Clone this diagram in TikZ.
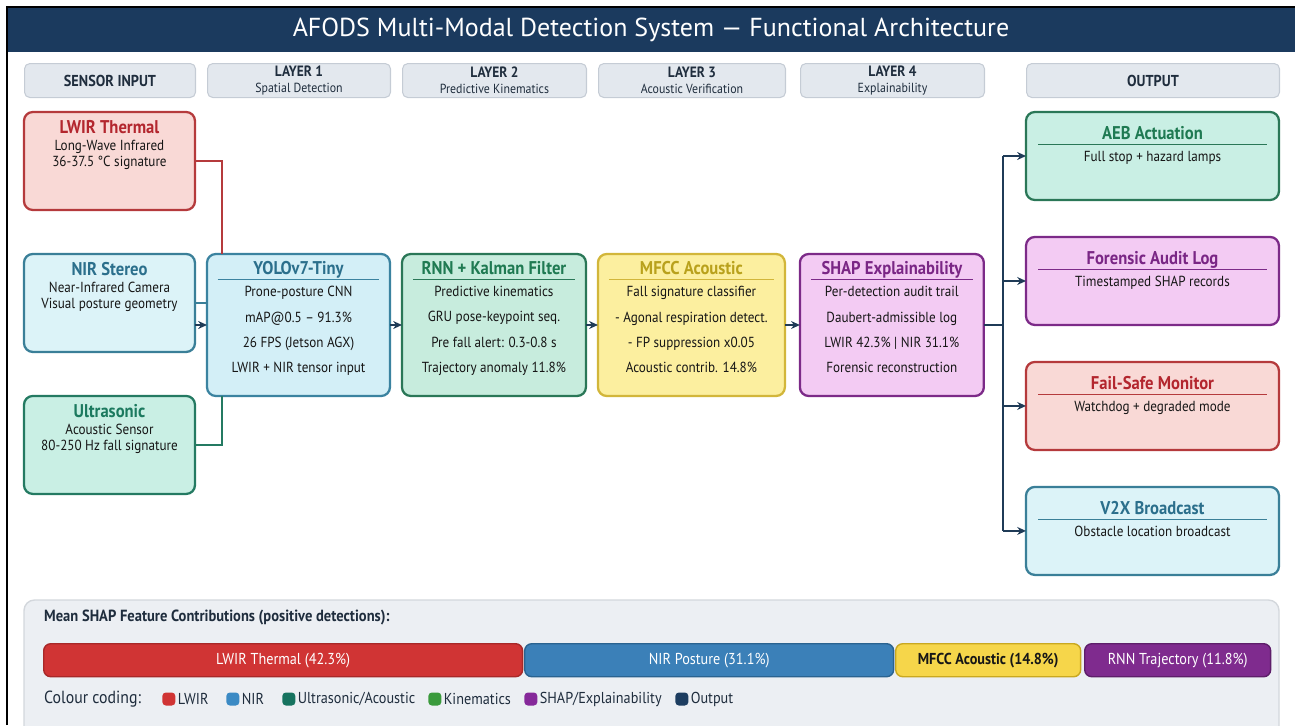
\documentclass[tikz,border=0pt]{standalone}
\usepackage{fontspec}
\setmainfont{PT Sans}[FakeStretch=0.9]
\newfontfamily\headfont{PT Sans}
\usetikzlibrary{arrows.meta, positioning, calc}

% colours
\definecolor{titlebar}{HTML}{1B3A5E}
\definecolor{hdrfill}{HTML}{E3E8EE}
\definecolor{hdrline}{HTML}{C5CCD5}
\definecolor{hdrtext}{HTML}{1F2D3D}
\definecolor{bodytext}{HTML}{161616}
\definecolor{navy}{HTML}{1F3B57}
\definecolor{lwirfill}{HTML}{F9D9D6}\definecolor{lwirline}{HTML}{B53A3C}\definecolor{lwirtxt}{HTML}{B3262E}
\definecolor{nirfill}{HTML}{DCF3F8}\definecolor{nirline}{HTML}{3A7F98}\definecolor{nirtxt}{HTML}{2B6F8C}
\definecolor{ultrafill}{HTML}{C9EFE4}\definecolor{ultraline}{HTML}{247A62}\definecolor{ultratxt}{HTML}{1C7A5F}
\definecolor{yolofill}{HTML}{D3EFF7}\definecolor{yololine}{HTML}{3B83A0}
\definecolor{rnnfill}{HTML}{C7ECDD}\definecolor{rnnline}{HTML}{2A7757}\definecolor{rnntxt}{HTML}{1F7A52}
\definecolor{mfccfill}{HTML}{FCEF9F}\definecolor{mfccline}{HTML}{D2B63A}\definecolor{mfcctxt}{HTML}{B9A11C}
\definecolor{shapfill}{HTML}{F3CBF3}\definecolor{shapline}{HTML}{7C2A88}\definecolor{shaptxt}{HTML}{7A2685}
\definecolor{panelfill}{HTML}{ECEFF3}\definecolor{panelline}{HTML}{D3D7DC}
\definecolor{barred}{HTML}{D03434}\definecolor{barredline}{HTML}{A82828}
\definecolor{barblue}{HTML}{3B80B8}\definecolor{barblueline}{HTML}{2A6390}
\definecolor{baryellow}{HTML}{F6D64A}\definecolor{baryellowline}{HTML}{C9A820}
\definecolor{barpurple}{HTML}{7F2B8E}\definecolor{barpurpleline}{HTML}{5E1E6A}
\definecolor{legteal}{HTML}{16735F}\definecolor{leggreen}{HTML}{3A9A3C}
\definecolor{legpurple}{HTML}{86299A}\definecolor{legnavy}{HTML}{1D3D60}
\definecolor{legblue}{HTML}{3B8AC4}

\newcommand{\cardbox}[3]{\parbox[c][#2][t]{#1}{\centering\fontsize{8.3}{9.4}\selectfont\color{bodytext}#3}}
\newcommand{\cardtitle}[2]{{\fontsize{10.5}{12}\selectfont\bfseries\color{#1}#2}}
\newcommand{\cardrule}[2]{{\color{#1}\rule[3pt]{#2}{0.6pt}}}

\tikzset{
  card/.style={
    rectangle, rounded corners=5pt,
    line width=1.3pt, outer sep=0pt,
    inner sep=0pt, anchor=north west
  },
  hdr/.style={
    rectangle, rounded corners=3pt,
    draw=hdrline, fill=hdrfill, line width=0.6pt,
    minimum width=#1, minimum height=0.68cm,
    anchor=north west, align=center,
    inner sep=0pt, text=hdrtext
  },
  hdr/.default=3.66cm,
  link/.style={line width=1.1pt},
  arrow/.style={
    -{Stealth[length=5pt, width=4.5pt]},
    line width=1.1pt, draw=navy
  },
  bar/.style={
    rectangle, rounded corners=4pt,
    line width=0.8pt, minimum height=0.66cm,
    anchor=north west, inner sep=0pt,
    font=\fontsize{9}{10}\selectfont, text=white
  },
  legsq/.style={
    rectangle, rounded corners=2pt,
    minimum size=0.26cm, inner sep=0pt
  }
}

\begin{document}
\begin{tikzpicture}[x=0.02cm, y=-0.02cm]

\useasboundingbox (0,0) rectangle (1295,725);

%------------------------------------------------------
% TITLE BAR
%------------------------------------------------------
\fill[titlebar] (7,7) rectangle (1295,52);
\draw[black, line width=1.2pt] (7,725) -- (7,7) -- (1295,7);
\node[text=white, font=\headfont\fontsize{14.8}{16}\selectfont] (title) at (651,30)
  {AFODS Multi-Modal Detection System — Functional Architecture};

%------------------------------------------------------
% COLUMN HEADERS
%------------------------------------------------------
\node[hdr=3.42cm] (hsensor) at (24,63) {\fontsize{9}{10}\selectfont\bfseries SENSOR INPUT};
\node[hdr=3.66cm] (hlayer1) at (207,63) {\fontsize{8.5}{8}\selectfont\bfseries LAYER 1\\[-3pt]\fontsize{7.5}{8}\selectfont Spatial Detection};
\node[hdr=3.68cm] (hlayer2) at (402,63) {\fontsize{8.5}{8}\selectfont\bfseries LAYER 2\\[-3pt]\fontsize{7.5}{8}\selectfont Predictive Kinematics};
\node[hdr=3.74cm] (hlayer3) at (598,63) {\fontsize{8.5}{8}\selectfont\bfseries LAYER 3\\[-3pt]\fontsize{7.5}{8}\selectfont Acoustic Verification};
\node[hdr=3.68cm] (hlayer4) at (800,63) {\fontsize{8.5}{8}\selectfont\bfseries LAYER 4\\[-3pt]\fontsize{7.5}{8}\selectfont Explainability};
\node[hdr=5.06cm] (houtput) at (1026,63) {\fontsize{9}{10}\selectfont\bfseries OUTPUT};

%------------------------------------------------------
% SENSOR INPUT
%------------------------------------------------------
\node[card, draw=lwirline, fill=lwirfill] (lwir) at (24,112) {%
  \cardbox{3.42cm}{1.96cm}{\vspace*{5pt}\cardtitle{lwirtxt}{LWIR Thermal}\\
  Long-Wave Infrared\\ 36-37.5 °C signature}};

\node[card, draw=nirline, fill=nirfill, below=0.88cm of lwir] (nir) {%
  \cardbox{3.42cm}{1.96cm}{\vspace*{5pt}\cardtitle{nirtxt}{NIR Stereo}\\
  Near-Infrared Camera\\ Visual posture geometry}};

\node[card, draw=ultraline, fill=ultrafill, below=0.88cm of nir] (ultra) {%
  \cardbox{3.42cm}{1.96cm}{\vspace*{5pt}\cardtitle{ultratxt}{Ultrasonic}\\
  Acoustic Sensor\\ 80-250 Hz fall signature}};

%------------------------------------------------------
% LAYERS 1--4
%------------------------------------------------------
\node[card, draw=yololine, fill=yolofill] (yolo) at (207,254) {%
  \cardbox{3.66cm}{2.84cm}{\vspace*{4pt}\cardtitle{nirtxt}{YOLOv7-Tiny}\\[-3pt]
  \cardrule{yololine}{3.24cm}\\[-3pt]
  Prone-posture CNN\\[5pt] mAP@0.5 -- 91.3\%\\[5pt] 26 FPS (Jetson AGX)\\[5pt] LWIR + NIR tensor input}};

\node[card, draw=rnnline, fill=rnnfill, right=0.24cm of yolo] (rnn) {%
  \cardbox{3.68cm}{2.84cm}{\vspace*{4pt}\cardtitle{rnntxt}{RNN + Kalman Filter}\\[-3pt]
  \cardrule{rnnline}{3.24cm}\\[-3pt]
  Predictive kinematics\\[5pt] GRU pose-keypoint seq.\\[5pt] Pre fall alert: 0.3-0.8 s\\[5pt] Trajectory anomaly 11.8\%}};

\node[card, draw=mfccline, fill=mfccfill, right=0.24cm of rnn] (mfcc) {%
  \cardbox{3.74cm}{2.84cm}{\vspace*{4pt}\cardtitle{mfcctxt}{MFCC Acoustic}\\[-3pt]
  \cardrule{mfccline}{3.3cm}\\[-3pt]
  Fall signature classifier\\[5pt] - Agonal respiration detect.\\[5pt] - FP suppression x0.05\\[5pt] Acoustic contrib. 14.8\%}};

\node[card, draw=shapline, fill=shapfill, right=0.3cm of mfcc] (shap) {%
  \cardbox{3.68cm}{2.84cm}{\vspace*{4pt}\cardtitle{shaptxt}{SHAP Explainability}\\[-3pt]
  \cardrule{shapline}{3.24cm}\\[-3pt]
  Per-detection audit trail\\[5pt] Daubert-admissible log\\[5pt] LWIR 42.3\% | NIR 31.1\%\\[5pt] Forensic reconstruction}};

%------------------------------------------------------
% OUTPUT
%------------------------------------------------------
\node[card, draw=rnnline, fill=ultrafill] (aeb) at (1026,112) {%
  \cardbox{5.06cm}{1.76cm}{\vspace*{8pt}\cardtitle{rnntxt}{AEB Actuation}\\[-3pt]
  \cardrule{rnnline}{4.58cm}\\[-3pt] Full stop + hazard lamps}};

\node[card, draw=shapline, fill=shapfill, below=0.74cm of aeb] (audit) {%
  \cardbox{5.06cm}{1.76cm}{\vspace*{8pt}\cardtitle{shaptxt}{Forensic Audit Log}\\[-3pt]
  \cardrule{shapline}{4.58cm}\\[-3pt] Timestamped SHAP records}};

\node[card, draw=lwirline, fill=lwirfill, below=0.74cm of audit] (failsafe) {%
  \cardbox{5.06cm}{1.76cm}{\vspace*{8pt}\cardtitle{lwirtxt}{Fail-Safe Monitor}\\[-3pt]
  \cardrule{lwirline}{4.58cm}\\[-3pt] Watchdog + degraded mode}};

\node[card, draw=nirline, fill=nirfill, below=0.74cm of failsafe] (v2x) {%
  \cardbox{5.06cm}{1.76cm}{\vspace*{8pt}\cardtitle{nirtxt}{V2X Broadcast}\\[-3pt]
  \cardrule{nirline}{4.58cm}\\[-3pt] Obstacle location broadcast}};

%------------------------------------------------------
% EDGES
%------------------------------------------------------
\draw[link, lwirline] (lwir.east) -| ($(yolo.north west)+(15,0)$);
\draw[link, nirline] (nir.east) -- (nir.east -| yolo.west);
\draw[arrow] (nir.east |- yolo.west) -- (yolo.west);
\draw[link, ultraline] (ultra.east) -| ($(yolo.south west)+(15,0)$);

\draw[arrow] (yolo) -- (rnn);
\draw[arrow] (rnn) -- (mfcc);
\draw[arrow] (mfcc) -- (shap);

\coordinate (fan) at ($(shap.east)+(19,0)$);
\draw[link, navy] (shap.east) -- (fan);
\draw[link, navy] (fan |- aeb.west) -- (fan |- v2x.west);
\draw[arrow] (fan |- aeb.west) -- (aeb.west);
\draw[arrow] (fan |- audit.west) -- (audit.west);
\draw[arrow] (fan |- failsafe.west) -- (failsafe.west);
\draw[arrow] (fan |- v2x.west) -- (v2x.west);

%------------------------------------------------------
% SHAP CONTRIBUTIONS PANEL
%------------------------------------------------------
\draw[panelline, fill=panelfill, rounded corners=6pt, line width=0.8pt] (24,600) rectangle (1279,745);
\node[anchor=west, text=hdrtext, font=\fontsize{9.2}{10}\selectfont\bfseries] (paneltitle) at (38,617)
  {Mean SHAP Feature Contributions (positive detections):};

\node[bar, draw=barredline, fill=barred, minimum width=9.58cm] (barlwir) at (43,643) {LWIR Thermal (42.3\%)};
\node[bar, draw=barblueline, fill=barblue, minimum width=7.38cm] (barnir) at (524,643) {NIR Posture (31.1\%)};
\node[bar, draw=baryellowline, fill=baryellow, minimum width=3.7cm, text=bodytext, font=\fontsize{9}{10}\selectfont\bfseries] (barmfcc) at (895,643) {MFCC Acoustic (14.8\%)};
\node[bar, draw=barpurpleline, fill=barpurple, minimum width=3.72cm] (barrnn) at (1084,643) {RNN Trajectory (11.8\%)};

% colour coding legend
\node[anchor=west, text=hdrtext, font=\fontsize{10}{11}\selectfont] (legtitle) at (38,699) {Colour coding:};
\foreach \x/\c/\t in {162/barred/LWIR, 226/legblue/NIR, 282/legteal/{Ultrasonic/Acoustic},
                      428/leggreen/Kinematics, 524/legpurple/{SHAP/Explainability}, 675/legnavy/Output} {
  \node[legsq, fill=\c, anchor=west] (leg\x) at (\x,699) {};
  \node[anchor=west, inner sep=1pt, text=hdrtext, font=\fontsize{9}{10}\selectfont] (legtxt\x) at (leg\x.east) {\t};
}

\end{tikzpicture}
\end{document}
